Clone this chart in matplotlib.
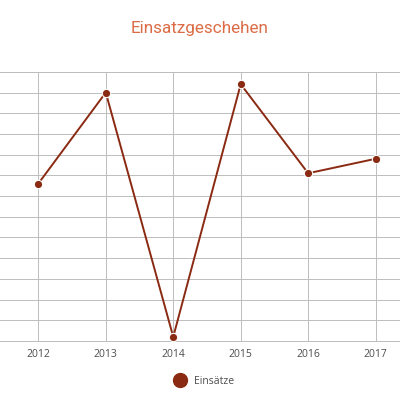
import matplotlib.pyplot as plt
from matplotlib.lines import Line2D

# Einsätze pro Jahr
years = [2012, 2013, 2014, 2015, 2016, 2017]
einsaetze = [76, 120, 2, 124, 81, 88]
y_ticks = list(range(0, 140, 10))

line_color = '#8a2a12'
title_color = '#dc6c46'
grid_color = '#bdbdbd'

fig = plt.figure(figsize=(4, 4), dpi=100)
ax = fig.add_axes([0, 0.1475, 1, 0.673])

ax.plot(years, einsaetze, color=line_color, linewidth=1.4, marker='o',
        markersize=6, markerfacecolor=line_color, markeredgecolor='white',
        markeredgewidth=0.8, zorder=3, clip_on=False)

ax.set_xlim(2011.432, 2017.361)
ax.set_ylim(0, 130)
ax.set_xticks(years)
ax.set_xticklabels([str(y) for y in years])
ax.set_yticks(y_ticks)
ax.set_yticklabels([])
ax.grid(True, color=grid_color, linewidth=0.7)
ax.tick_params(axis='both', length=0, pad=6, labelsize=7.5, labelcolor='#4d4d4d')
for side in ['left', 'right']:
    ax.spines[side].set_visible(False)
for side in ['top', 'bottom']:
    ax.spines[side].set_color(grid_color)
    ax.spines[side].set_linewidth(0.7)
for lbl in ax.get_xticklabels():
    lbl.set_fontfamily(['Open Sans', 'DejaVu Sans'])

fig.text(0.5, 0.93, 'Einsatzgeschehen', ha='center', va='center',
         fontsize=12.3, color=title_color, family=['Roboto', 'DejaVu Sans'],
         fontweight='normal')

handle = Line2D([], [], linestyle='none', marker='o', markersize=10,
                color=line_color)
fig.legend([handle], ['Einsätze'], loc='center', bbox_to_anchor=(0.505, 0.047),
           frameon=False, handletextpad=0.4,
           prop={'family': ['Open Sans', 'DejaVu Sans'], 'size': 7.5}, labelcolor='#4d4d4d')

plt.savefig('out.png', dpi=100)
